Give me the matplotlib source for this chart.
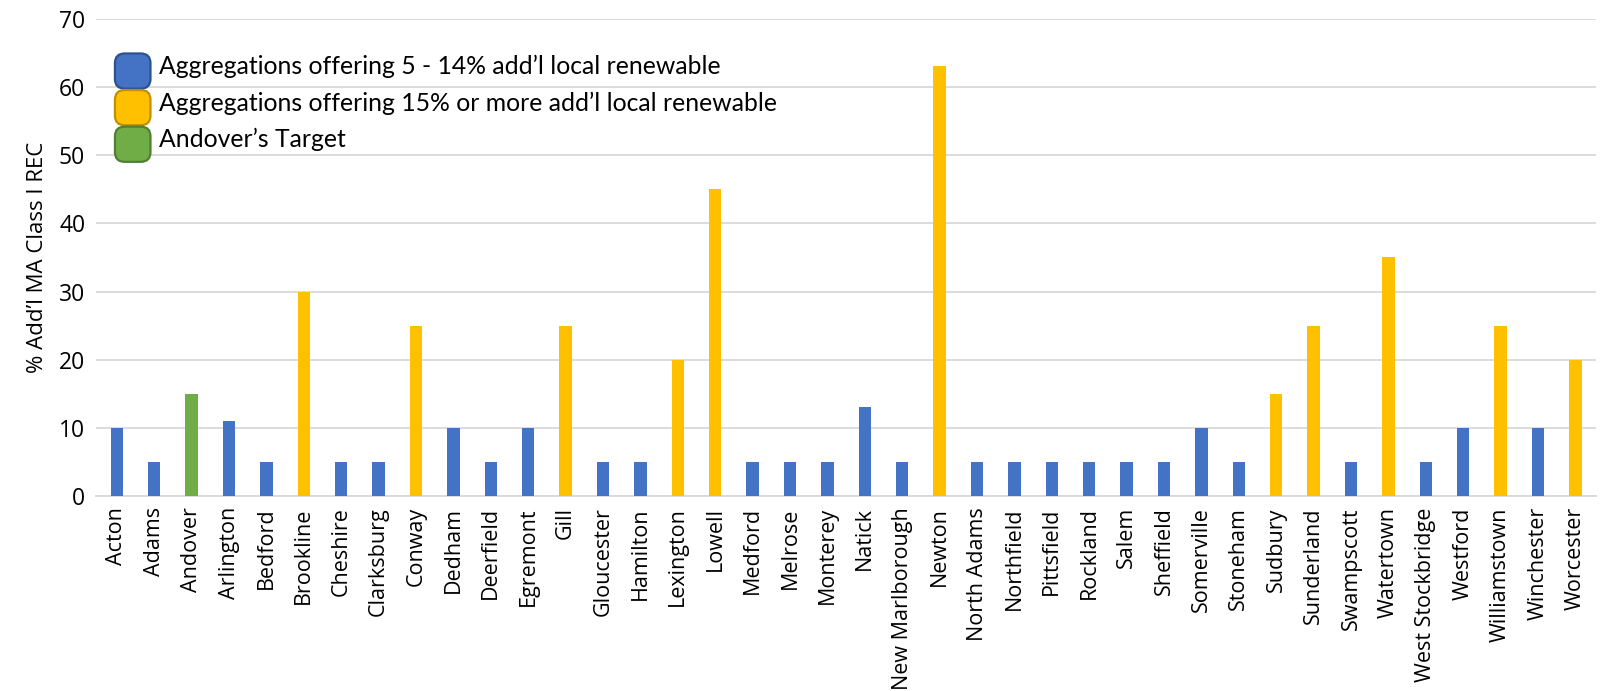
import matplotlib
matplotlib.use("Agg")
import matplotlib.pyplot as plt
from matplotlib.patches import Patch, FancyBboxPatch
from matplotlib.legend_handler import HandlerPatch

towns = ["Acton", "Adams", "Andover", "Arlington", "Bedford", "Brookline", "Cheshire",
         "Clarksburg", "Conway", "Dedham", "Deerfield", "Egremont", "Gill", "Gloucester",
         "Hamilton", "Lexington", "Lowell", "Medford", "Melrose", "Monterey", "Natick",
         "New Marlborough", "Newton", "North Adams", "Northfield", "Pittsfield", "Rockland",
         "Salem", "Sheffield", "Somerville", "Stoneham", "Sudbury", "Sunderland",
         "Swampscott", "Watertown", "West Stockbridge", "Westford", "Williamstown",
         "Winchester", "Worcester"]

pct = [10, 5, 15, 11, 5, 30, 5, 5, 25, 10, 5, 10, 25, 5, 5, 20, 45, 5, 5, 5, 13,
       5, 63, 5, 5, 5, 5, 5, 5, 10, 5, 15, 25, 5, 35, 5, 10, 25, 10, 20]

# group: 0 = 5-14%, 1 = 15% or more, 2 = Andover target
group = [0, 0, 2, 0, 0, 1, 0, 0, 1, 0, 0, 0, 1, 0, 0, 1, 1, 0, 0, 0, 0,
         0, 1, 0, 0, 0, 0, 0, 0, 0, 0, 1, 1, 0, 1, 0, 0, 1, 0, 1]

legend_labels = ["Aggregations offering 5 - 14% add\u2019l local renewable",
                 "Aggregations offering 15% or more add\u2019l local renewable",
                 "Andover\u2019s Target"]

fills = ["#4472C4", "#FFC000", "#70AD47"]
edges = ["#2F528F", "#BF9000", "#507E32"]


class RoundBox(HandlerPatch):
    def create_artists(self, legend, orig, xd, yd, w, h, fontsize, trans):
        p = FancyBboxPatch((-xd + 1, -yd - 3), w - 2, h - 1,
                           boxstyle="round,pad=0,rounding_size=7",
                           facecolor=orig.get_facecolor(), edgecolor=orig.get_edgecolor(),
                           linewidth=1.6, transform=trans)
        return [p]


fig = plt.figure(figsize=(16.04, 6.91), dpi=100)
ax = fig.add_axes([0.06, 0.282, 0.935, 0.691])

x = range(len(towns))
ax.bar(x, pct, width=0.33, color=[fills[g] for g in group], zorder=3)

ax.set_xlim(-0.55, len(towns) - 0.45)
ax.set_ylim(0, 70)
ax.set_yticks(range(0, 71, 10))
ax.set_xticks(list(x))
ax.set_xticklabels(towns, rotation=90, fontsize=15.5, family="Open Sans")
for lab in ax.get_yticklabels():
    lab.set_fontsize(16.5)
    lab.set_family("Open Sans")
ax.tick_params(length=0, pad=8)
ax.grid(axis="y", color="#d9d9d9", linewidth=1.3, zorder=0)
for s in ["top", "right", "left"]:
    ax.spines[s].set_visible(False)
ax.spines["bottom"].set_color("#d9d9d9")
ax.spines["bottom"].set_linewidth(1.3)

ax.set_ylabel("% Add\u2019l MA Class I REC", fontsize=16, family="Open Sans", labelpad=8)

handles = [Patch(facecolor=f, edgecolor=e) for f, e in zip(fills, edges)]
ax.legend(handles, legend_labels, loc="upper left", bbox_to_anchor=(0.0, 0.975),
          frameon=False, prop={"family": "Lato", "size": 17.8},
          handlelength=1.55, handleheight=1.9, handletextpad=0.3, labelspacing=0.0,
          borderaxespad=0.3, handler_map={Patch: RoundBox()})

fig.savefig("out.png", dpi=100)
